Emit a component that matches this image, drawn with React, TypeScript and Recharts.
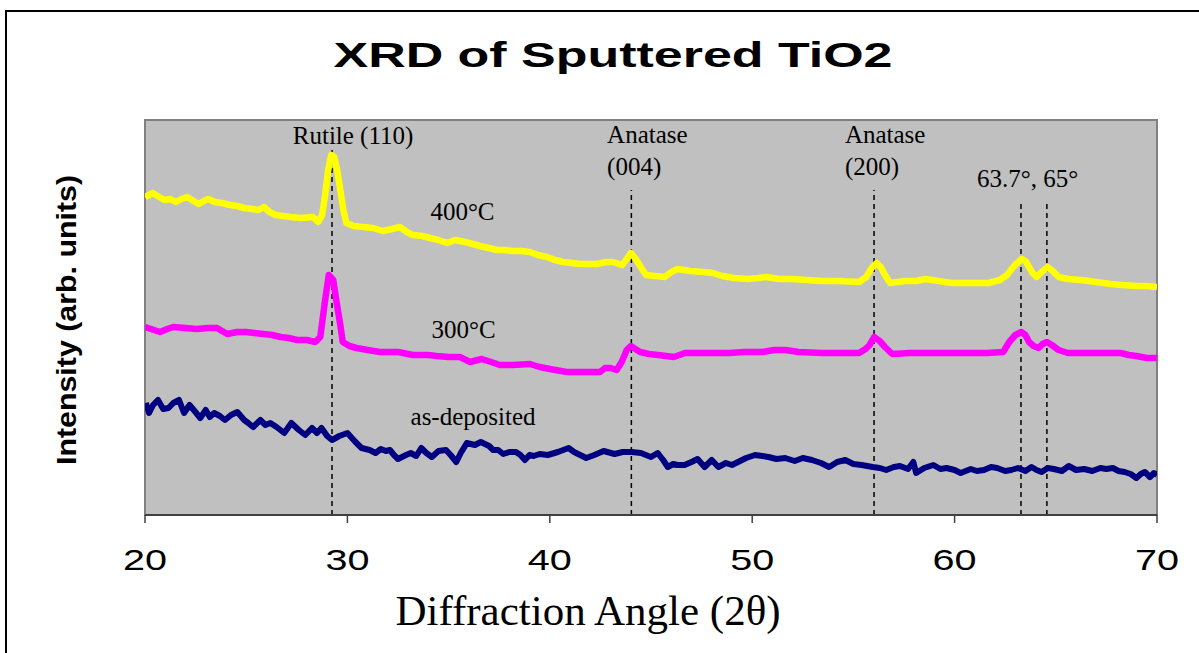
import React from 'react';
import { LineChart, Line, XAxis, YAxis, ReferenceArea, ReferenceLine, ReferenceDot } from 'recharts';

// 2θ (deg) and intensity (arb. units)
const scan400: [number, number][] = [
  [20.0, 318], [20.39, 322], [20.7, 318], [20.96, 315], [21.25, 316], [21.52, 313], [21.8, 316], [22.08, 318],
  [22.4, 314], [22.65, 311], [22.9, 314], [23.12, 316], [23.45, 313], [23.8, 312], [24.2, 310], [24.55, 309],
  [24.9, 307], [25.31, 306], [25.6, 305], [25.88, 308], [26.15, 303], [26.45, 300], [26.8, 299], [27.2, 298],
  [27.7, 297], [28.3, 298], [28.55, 293], [28.75, 300], [28.9, 320], [29.05, 345], [29.2, 360], [29.35, 358],
  [29.5, 345], [29.65, 325], [29.8, 305], [29.95, 292], [30.3, 289], [30.77, 288], [31.26, 287], [31.76, 284],
  [32.2, 286], [32.6, 288], [32.94, 283], [33.24, 280], [33.7, 279], [34.08, 277], [34.5, 275], [34.92, 272],
  [35.32, 275], [35.81, 273], [36.2, 271], [36.55, 269], [37.0, 267], [37.39, 265], [37.8, 265], [38.13, 264],
  [38.6, 264], [39.02, 263], [39.4, 260], [39.86, 258], [40.25, 255], [40.65, 253], [41.1, 252], [41.49, 251],
  [41.9, 251], [42.33, 251], [42.78, 253], [43.12, 253], [43.57, 250], [43.8, 256], [44.01, 262], [44.25, 256],
  [44.49, 248], [44.75, 240], [45.2, 239], [45.68, 238], [46.0, 243], [46.32, 246], [46.93, 244], [47.6, 243],
  [48.05, 242], [48.51, 239], [49.1, 237], [49.79, 236], [50.3, 237], [50.71, 238], [51.3, 236], [51.97, 236],
  [52.7, 235], [53.45, 234], [54.3, 234], [55.28, 233], [55.64, 238], [55.9, 247], [56.15, 252], [56.35, 248],
  [56.56, 240], [56.81, 232], [57.2, 233], [57.55, 234], [58.1, 234], [58.57, 236], [59.2, 234], [59.85, 232],
  [60.7, 232], [61.67, 232], [62.24, 235], [62.59, 240], [62.98, 250], [63.32, 256], [63.5, 254], [63.68, 248],
  [63.85, 242], [64.05, 238], [64.3, 243], [64.6, 248], [64.85, 244], [65.14, 238], [65.6, 236], [66.25, 235],
  [67.0, 233], [67.7, 231], [68.3, 230], [68.98, 229], [69.5, 229], [70.0, 228],
];

const scan300: [number, number][] = [
  [20.0, 188], [20.3, 186], [20.74, 183], [21.1, 186], [21.4, 188], [22.0, 187], [22.57, 186], [23.1, 187],
  [23.56, 187], [24.06, 181], [24.55, 183], [25.0, 183], [25.4, 182], [25.85, 181], [26.3, 180], [26.69, 178],
  [27.1, 177], [27.51, 175], [28.0, 175], [28.41, 173], [28.66, 178], [28.9, 215], [29.08, 240], [29.3, 235],
  [29.45, 215], [29.65, 190], [29.77, 173], [30.1, 169], [30.45, 167], [31.0, 165], [31.6, 163], [32.5, 163],
  [33.24, 160], [34.0, 160], [34.4, 159], [35.0, 158], [35.56, 158], [36.06, 153], [36.64, 156], [37.1, 153],
  [37.54, 150], [38.18, 150], [39.02, 151], [39.5, 148], [40.0, 146], [40.83, 143], [41.6, 143], [42.48, 143],
  [42.73, 147], [43.0, 147], [43.3, 145], [43.55, 153], [43.8, 165], [44.0, 169], [44.46, 163], [44.9, 161],
  [45.35, 160], [46.13, 158], [46.68, 162], [47.5, 162], [48.3, 162], [48.88, 162], [49.6, 163], [50.5, 163],
  [51.1, 165], [51.63, 165], [52.3, 163], [53.45, 162], [54.3, 162], [55.28, 162], [55.6, 166], [55.8, 170],
  [56.03, 178], [56.3, 174], [56.56, 168], [56.92, 161], [57.8, 162], [58.95, 162], [59.8, 162], [60.8, 162],
  [61.6, 162], [62.4, 163], [62.7, 173], [63.0, 180], [63.29, 183], [63.5, 180], [63.68, 173], [63.9, 169],
  [64.15, 167], [64.35, 171], [64.56, 173], [64.8, 170], [65.14, 165], [65.6, 162], [66.25, 162], [67.2, 162],
  [68.2, 162], [68.6, 160], [68.98, 159], [69.5, 157], [70.0, 157],
];

const scanAsDep: [number, number][] = [
  [20.04, 112], [20.2, 102], [20.4, 110], [20.64, 115], [20.9, 106], [21.16, 107], [21.4, 112], [21.68, 115],
  [21.93, 102], [22.2, 110], [22.45, 104], [22.73, 97], [23.0, 105], [23.2, 98], [23.42, 102], [23.7, 99],
  [23.95, 95], [24.25, 100], [24.56, 103], [24.9, 95], [25.1, 92], [25.34, 88], [25.7, 95], [25.95, 90],
  [26.19, 92], [26.5, 88], [26.88, 82], [27.23, 92], [27.6, 85], [27.92, 80], [28.25, 87], [28.5, 82],
  [28.72, 87], [29.0, 79], [29.24, 75], [29.6, 79], [30.0, 82], [30.4, 73], [30.7, 67], [31.1, 65],
  [31.39, 62], [31.65, 66], [31.9, 64], [32.1, 65], [32.3, 60], [32.5, 56], [32.9, 60], [33.13, 62],
  [33.4, 59], [33.65, 67], [33.9, 62], [34.17, 58], [34.5, 64], [34.87, 65], [35.1, 60], [35.38, 53],
  [35.6, 62], [35.9, 72], [36.3, 70], [36.59, 73], [37.0, 69], [37.2, 65], [37.45, 65], [37.7, 61],
  [38.0, 63], [38.33, 63], [38.55, 60], [38.77, 55], [39.0, 60], [39.2, 59], [39.5, 61], [39.9, 60],
  [40.4, 63], [40.93, 67], [41.2, 63], [41.5, 60], [41.8, 57], [42.2, 60], [42.66, 64], [43.2, 61],
  [43.6, 63], [44.04, 63], [44.5, 62], [45.0, 58], [45.33, 62], [45.6, 55], [45.83, 48], [46.1, 51],
  [46.3, 50], [46.66, 50], [47.0, 53], [47.3, 56], [47.65, 48], [48.0, 55], [48.33, 48], [48.7, 52],
  [49.0, 50], [49.3, 53], [49.7, 57], [50.14, 60], [50.5, 59], [50.8, 58], [51.2, 56], [51.63, 57],
  [52.1, 54], [52.5, 57], [52.95, 55], [53.4, 52], [53.8, 48], [54.2, 53], [54.6, 55], [55.0, 51],
  [55.4, 50], [55.95, 48], [56.3, 47], [56.62, 45], [57.0, 48], [57.3, 49], [57.7, 46], [57.96, 53],
  [58.1, 42], [58.5, 47], [58.95, 50], [59.3, 46], [59.6, 47], [60.0, 45], [60.3, 42], [60.8, 46],
  [61.1, 44], [61.45, 45], [61.8, 48], [62.1, 47], [62.5, 44], [62.8, 45], [63.13, 47], [63.5, 44],
  [63.8, 48], [64.05, 45], [64.3, 43], [64.6, 47], [64.9, 46], [65.3, 44], [65.64, 49], [66.0, 45],
  [66.4, 46], [66.8, 44], [67.2, 47], [67.5, 46], [67.82, 47], [68.1, 44], [68.4, 43], [68.7, 41],
  [68.98, 37], [69.2, 41], [69.4, 43], [69.65, 38], [69.85, 42], [70.0, 40],
];

const xTicks = [20, 30, 40, 50, 60, 70];

// dashed peak markers: angle, top of the dash
const peakLines = [
  { angle: 29.24, top: 369 },
  { angle: 44.03, top: 325 },
  { angle: 56.02, top: 325 },
  { angle: 63.28, top: 315 },
  { angle: 64.56, top: 315 },
];

// text annotations: anchor angle / level, anchor side
const notes = [
  { lines: ['Rutile (110)'], angle: 30.28, level: 371, anchor: 'middle' },
  { lines: ['Anatase', '(004)'], angle: 42.83, level: 372, anchor: 'start' },
  { lines: ['Anatase', '(200)'], angle: 54.58, level: 372, anchor: 'start' },
  { lines: ['63.7°, 65°'], angle: 61.11, level: 328, anchor: 'start' },
  { lines: ['400°C'], angle: 34.1, level: 295, anchor: 'start' },
  { lines: ['300°C'], angle: 34.15, level: 177, anchor: 'start' },
  { lines: ['as-deposited'], angle: 33.12, level: 90, anchor: 'start' },
];

const toRows = (pts: [number, number][]) => pts.map(([x, y]) => ({ x, y }));

const serif = '"Liberation Serif", "Times New Roman", serif';
const sans = '"Liberation Sans", Arial, sans-serif';

const Tick = (props: any) => {
  const { x, y, payload } = props;
  return (
    <text x={x} y={y + 45} textAnchor="middle" fontFamily={sans} fontSize={30} fill="#000"
      textLength={44} lengthAdjust="spacingAndGlyphs">
      {payload.value}
    </text>
  );
};

const noteLabel = (lines: string[], anchor: string) => (props: any) => {
  const vb = props.viewBox;
  const x = vb.x + vb.width / 2;
  const y = vb.y + vb.height / 2;
  return (
    <text x={x} y={y} textAnchor={anchor} fontFamily={serif} fontSize={25} fill="#000">
      {lines.map((l, i) => (
        <tspan key={i} x={x} dy={i === 0 ? 0 : 32}>{l}</tspan>
      ))}
    </text>
  );
};

export default function App() {
  return (
    <div style={{ position: 'absolute', left: 0, top: 0, width: 1199, height: 653, overflow: 'hidden', background: '#fff' }}>
      <div style={{ position: 'absolute', left: 5, top: 10, width: 1260, height: 720, border: '2px solid #000' }} />
      <div style={{ position: 'absolute', left: 0, top: 0 }}>
        <LineChart width={1199} height={653} margin={{ top: 120, right: 42, bottom: 88, left: 145 }}>
          <ReferenceArea x1={20} x2={70} y1={0} y2={395} fill="#C0C0C0" fillOpacity={1} stroke="#808080" strokeWidth={2} />
          <XAxis type="number" dataKey="x" domain={[20, 70]} ticks={xTicks} allowDataOverflow height={50}
            axisLine={{ stroke: '#404040', strokeWidth: 2 }} tickLine={{ stroke: '#404040', strokeWidth: 1.5 }}
            tickSize={8} tick={<Tick />} interval={0} />
          <YAxis type="number" domain={[0, 395]} hide allowDataOverflow />
          {peakLines.map((p) => (
            <ReferenceLine key={p.angle} segment={[{ x: p.angle, y: 0 }, { x: p.angle, y: p.top }]}
              stroke="#000" strokeWidth={1.5} strokeDasharray="5 4" />
          ))}
          <Line data={toRows(scan400)} dataKey="y" stroke="#FFFF00" strokeWidth={6.5} dot={false}
            isAnimationActive={false} type="linear" strokeLinejoin="round" />
          <Line data={toRows(scan300)} dataKey="y" stroke="#FF00FF" strokeWidth={6.5} dot={false}
            isAnimationActive={false} type="linear" strokeLinejoin="round" />
          <Line data={toRows(scanAsDep)} dataKey="y" stroke="#000080" strokeWidth={6} dot={false}
            isAnimationActive={false} type="linear" strokeLinejoin="round" />
          {notes.map((n) => (
            <ReferenceDot key={n.lines[0] + n.angle} x={n.angle} y={n.level} r={1} fill="none" stroke="none"
              label={{ content: noteLabel(n.lines, n.anchor) }} />
          ))}
        </LineChart>
      </div>
      <svg width={1199} height={653} style={{ position: 'absolute', left: 0, top: 0, pointerEvents: 'none' }}>
        <text x={613} y={67} textAnchor="middle" fontFamily={sans} fontWeight="bold" fontSize={35}
          textLength={559} lengthAdjust="spacingAndGlyphs">XRD of Sputtered TiO2</text>
        <text transform="translate(76,320) rotate(-90)" textAnchor="middle" fontFamily={sans} fontWeight="bold"
          fontSize={28} textLength={290} lengthAdjust="spacingAndGlyphs">Intensity (arb. units)</text>
        <text x={588} y={625} textAnchor="middle" fontFamily={serif} fontSize={43}>Diffraction Angle (2θ)</text>
      </svg>
    </div>
  );
}
